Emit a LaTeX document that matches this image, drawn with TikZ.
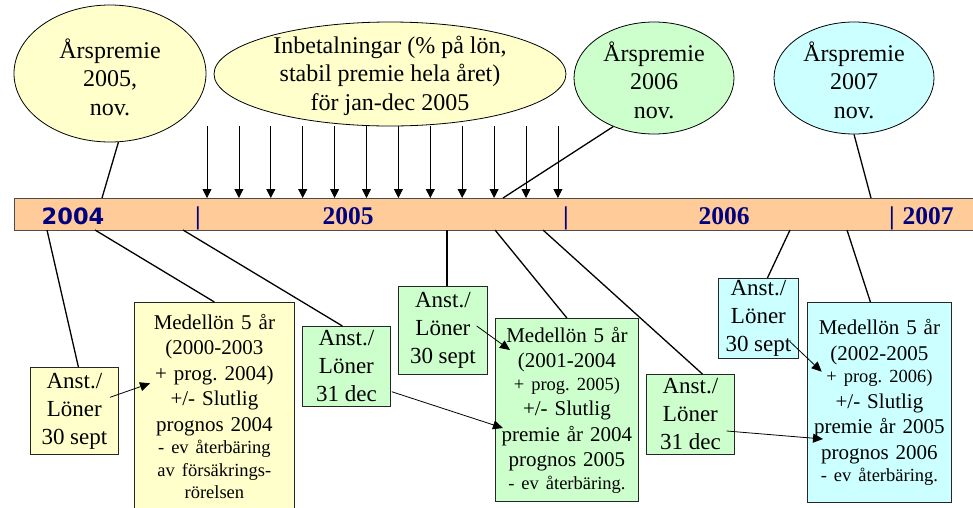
\documentclass[tikz,border=0pt]{standalone}
\usepackage{fontspec}
\setmainfont{Liberation Serif}
\newfontfamily\yearsans{DejaVu Sans}
\usetikzlibrary{shapes.geometric,arrows.meta,calc}
\definecolor{peach}{RGB}{255,204,153}
\definecolor{paleyellow}{RGB}{255,255,204}
\definecolor{palegreen}{RGB}{204,255,204}
\definecolor{paleblue}{RGB}{204,255,255}
\definecolor{navy}{RGB}{0,0,128}
\newcommand\smallline{\fontsize{18.5}{22.5}\selectfont}
\frenchspacing

\begin{document}
\begin{tikzpicture}[x=1pt,y=-1pt,
  bubble/.style={ellipse, draw=black, line width=0.8pt, inner sep=0pt},
  bubbletext/.style={align=center, font=\fontsize{24}{28.5}\selectfont, inner sep=0pt},
  smallbox/.style={rectangle, draw=black!85, line width=0.8pt, inner sep=0pt,
    align=center, anchor=north west, font=\fontsize{23}{28}\selectfont},
  bigbox/.style={rectangle, draw=black!85, line width=0.8pt, inner sep=0pt,
    align=center, anchor=north west, font=\fontsize{21}{25.5}\selectfont},
  stem/.style={line width=1.3pt},
  pointer/.style={line width=0.8pt, -{Triangle[length=10pt,width=9pt]}},
  payarrow/.style={line width=0.8pt, -{Triangle[length=9pt,width=9pt]}},
  yearlabel/.style={anchor=base, text=navy, inner sep=0pt,
    font=\fontsize{25.5}{30}\selectfont\bfseries},
]
\clip (0,0) rectangle (973,507);
\fill[white] (0,0) rectangle (973,507);

% timeline bar
\node[draw=black!70, fill=peach, line width=0.8pt, minimum width=975, minimum height=32,
  inner sep=0pt, anchor=north west] (bar) at (14,198) {};
\node[yearlabel, font=\yearsans\fontsize{22.5}{27}\selectfont\bfseries] (y2004) at (73,224) {2004};
\node[yearlabel] (sep1) at (198,224) {|};
\node[yearlabel] (y2005) at (348,224) {2005};
\node[yearlabel] (sep2) at (566,224) {|};
\node[yearlabel] (y2006) at (724,224) {2006};
\node[yearlabel] (sep3) at (892,224) {|};
\node[yearlabel] (y2007) at (928,224) {2007};

% bubbles above the timeline
\node[bubble, fill=paleyellow, minimum width=192, minimum height=137] (e1) at (110,73.5) {};
\node[bubbletext] (e1t) at (110,77) {Årspremie\\2005,\\nov.};
\node[bubble, fill=paleyellow, minimum width=352, minimum height=104] (e2) at (390,74) {};
\node[bubbletext] (e2t) at (390,75.5) {Inbetalningar (\% på lön,\\stabil premie hela året)\\för jan-dec 2005};
\node[bubble, fill=palegreen, minimum width=160, minimum height=112] (e3) at (654,78) {};
\node[bubbletext] (e3t) at (654,80) {Årspremie\\2006\\nov.};
\node[bubble, fill=paleblue, minimum width=160, minimum height=112] (e4) at (854,78) {};
\node[bubbletext] (e4t) at (854,80) {Årspremie\\2007\\nov.};

% monthly payments
\foreach \i in {0,...,11} {
  \coordinate (pay\i) at ({207+31.9*\i},126);
  \draw[payarrow] (pay\i) -- (pay\i |- bar.north);
}

% stems from bubbles to the bar
\coordinate (top1) at (102,198);
\coordinate (top3) at (503,198);
\coordinate (top4) at (871,198);
\draw[stem] (e1.-83) -- (top1);
\draw[stem] (e3.230) -- (top3);
\draw[stem] (e4.south) -- (top4);

% boxes below the timeline
\node[smallbox, fill=paleyellow, minimum width=88, minimum height=87] (b1) at (30,367) {Anst./\\Löner\\30 sept};
\node[bigbox, fill=paleyellow, text width=160, minimum height=208] (b2) at (134,302)
  {Medellön 5 år\\(2000-2003\\+ prog. 2004)\\+/- Slutlig\\prognos 2004\par
   {\smallline - ev återbäring\\av försäkrings-\\rörelsen\par}};
\node[smallbox, fill=palegreen, minimum width=88, minimum height=80] (b3) at (302,326) {Anst./\\Löner\\31 dec};
\node[smallbox, fill=palegreen, minimum width=89, minimum height=88] (b4) at (398,286) {Anst./\\Löner\\30 sept};
\node[bigbox, fill=palegreen, text width=143, minimum height=183] (b5) at (495,318)
  {Medellön 5 år\\(2001-2004\par
   {\smallline + prog. 2005)\par}
   +/- Slutlig\\premie år 2004\\prognos 2005\par
   {\smallline - ev återbäring.\par}};
\node[smallbox, fill=palegreen, minimum width=88, minimum height=80] (b6) at (646,374) {Anst./\\Löner\\31 dec};
\node[smallbox, fill=paleblue, minimum width=80, minimum height=80] (b7) at (718,278) {Anst./\\Löner\\30 sept};
\node[bigbox, fill=paleblue, text width=144, minimum height=200] (b8) at (807,302)
  {Medellön 5 år\\(2002-2005\par
   {\smallline + prog. 2006)\par}
   +/- Slutlig\\premie år 2005\\prognos 2006\par
   {\smallline - ev återbäring.\par}};

% stems from the bar to the boxes
\coordinate (bot1) at (47,230);
\coordinate (bot2) at (95,230);
\coordinate (bot3) at (183,230);
\coordinate (bot4) at (447,230);
\coordinate (bot5) at (495,230);
\coordinate (bot6) at (543,230);
\coordinate (bot7) at (790,230);
\coordinate (bot8) at (847,230);
\draw[stem] (bot1) -- ($(b1.north)+(4,0)$);
\draw[stem] (bot2) -- (b2.north);
\draw[stem] (bot3) -- ($(b3.north)+(-4,0)$);
\draw[stem] (bot4) -- (bot4 |- b4.north);
\draw[stem] (bot5) -- (b5.north);
\draw[stem] (bot6) -- ($(b6.north)+(12,0)$);
\draw[stem] (bot7) -- ($(b7.north)+(9,0)$);
\draw[stem] (bot8) -- ($(b8.north)+(-9,0)$);

% pointers between the boxes
\coordinate (p1s) at (110,397.3);  \coordinate (p1e) at (150,383.3);
\coordinate (p2s) at (391.7,391.7); \coordinate (p2e) at (503,428);
\coordinate (p3s) at (476.7,326);  \coordinate (p3e) at (510,350);
\coordinate (p4s) at (726.7,431);  \coordinate (p4e) at (823,439);
\coordinate (p5s) at (790,341.7);  \coordinate (p5e) at (821.7,371.7);
\draw[pointer] (p1s) -- (p1e);
\draw[pointer] (p2s) -- (p2e);
\draw[pointer] (p3s) -- (p3e);
\draw[pointer] (p4s) -- (p4e);
\draw[pointer] (p5s) -- (p5e);
\end{tikzpicture}
\end{document}
